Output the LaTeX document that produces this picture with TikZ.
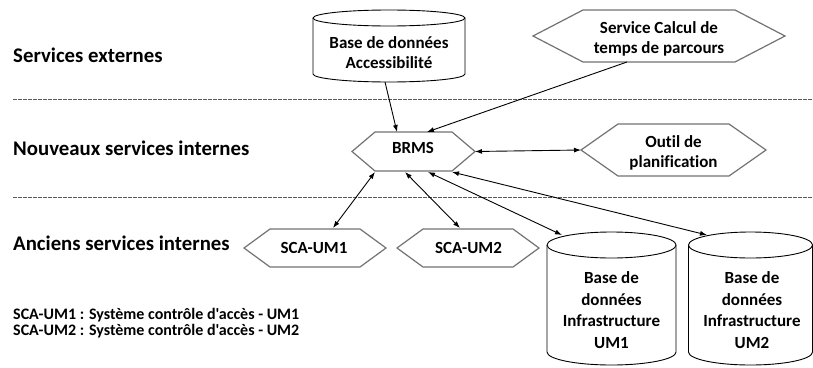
\documentclass[tikz,border=0pt]{standalone}
\usepackage{fontspec}
\setmainfont{Carlito}[Ligatures={TeXOff,CommonOff}]
\usetikzlibrary{arrows.meta,calc}
\newcommand{\hexoutline}[2]{%
  \draw[hexline] (#1.west) -- ([xshift=#2]#1.north west) -- ([xshift=-#2]#1.north east)
    -- (#1.east) -- ([xshift=-#2]#1.south east) -- ([xshift=#2]#1.south west) -- cycle;}
\newcommand{\cyloutline}[3]{%
  \draw[cylline] ([yshift=-#3]#1.north west) -- ([yshift=#3]#1.south west)
    arc[start angle=180,end angle=360,x radius=#2,y radius=#3]
    -- ([yshift=-#3]#1.north east)
    arc[start angle=0,end angle=180,x radius=#2,y radius=#3] -- cycle;
  \draw[cylline] ([yshift=-#3]#1.north west)
    arc[start angle=180,end angle=360,x radius=#2,y radius=#3];}
\begin{document}
\begin{tikzpicture}[x=1pt,y=-1pt,
  box/.style={draw=none,inner sep=0pt,outer sep=0pt,minimum width=#1},
  hexline/.style={draw=black!55,line width=1.2pt,fill=white,line join=miter},
  cylline/.style={draw=black,line width=0.9pt,fill=white},
  txt/.style={font=\fontsize{17}{20}\selectfont\bfseries,align=center,inner sep=0pt,text=black},
  dbtxt/.style={font=\fontsize{17}{21.5}\selectfont\bfseries,align=center,inner sep=0pt,text=black},
  lane/.style={font=\fontsize{20.8}{24}\selectfont\bfseries,anchor=base west,inner sep=0pt,text=black},
  legend/.style={font=\fontsize{16}{15}\selectfont\bfseries,anchor=base west,inner sep=0pt,text=black},
  sep/.style={draw=black!65,line width=0.9pt,dash pattern=on 3.5pt off 1.5pt},
  conn/.style={draw=black,line width=0.9pt},
  tip/.style={-{Latex[length=7pt,width=5pt]}},
  tips/.style={{Latex[length=7pt,width=5pt]}-{Latex[length=7pt,width=5pt]}}
]
\useasboundingbox (0,0) rectangle (813,367);

% separators
\coordinate (s1a) at (13,99);  \coordinate (s1b) at (813,99);
\coordinate (s2a) at (13,197); \coordinate (s2b) at (813,197);
\draw[sep] (s1a) -- (s1b);
\draw[sep] (s2a) -- (s2b);

% lane labels
\node[lane] (l1) at (13,62) {Services externes};
\node[lane] (l2) at (13,155) {Nouveaux services internes};
\node[lane] (l3) at (13,250) {Anciens services internes};

% legend
\node[legend] (g1) at (13,319) {SCA-UM1 : Système contrôle d'accès - UM1};
\node[legend] (g2) at (13,335) {SCA-UM2 : Système contrôle d'accès - UM2};

% shape boxes
\node[box=152pt,minimum height=72pt] (acc) at (389,46) {};
\node[box=252pt,minimum height=52pt] (svc) at (659,36) {};
\node[box=123pt,minimum height=39pt] (brms) at (413.5,151.5) {};
\node[box=185pt,minimum height=52pt] (outil) at (673.5,150) {};
\node[box=142pt,minimum height=38pt] (sca1) at (315,248) {};
\node[box=142pt,minimum height=38pt] (sca2) at (468,248) {};
\node[box=129pt,minimum height=133pt] (db1) at (611.5,298.5) {};
\node[box=124pt,minimum height=133pt] (db2) at (750.5,298.5) {};

% outlines
\cyloutline{acc}{76pt}{8pt}
\hexoutline{svc}{50pt}
\hexoutline{brms}{23pt}
\hexoutline{outil}{37pt}
\hexoutline{sca1}{26pt}
\hexoutline{sca2}{26pt}
\cyloutline{db1}{64.5pt}{13pt}
\cyloutline{db2}{62pt}{13pt}

% texts
\node[txt] (acct) at (389,53) {Base de données\\Accessibilité};
\node[txt] (svct) at (659,38.5) {Service Calcul de\\temps de parcours};
\node[txt] (brmst) at (413,148) {BRMS};
\node[txt] (outilt) at (673.5,153) {Outil de\\planification};
\node[txt] (sca1t) at (314,248) {SCA-UM1};
\node[txt] (sca2t) at (468.5,248) {SCA-UM2};
\node[dbtxt] (db1t) at (611.5,310) {Base de\\données\\Infrastructure\\UM1};
\node[dbtxt] (db2t) at (752,310) {Base de\\données\\Infrastructure\\UM2};

% connectors
\draw[conn,tip] ([xshift=-4pt]acc.south) -- ([xshift=-16.5pt]brms.north);
\draw[conn,tip] ([xshift=-32pt]svc.south) -- ([xshift=13.5pt]brms.north);
\draw[conn,tips] (brms.east) -- (outil.west);
\draw[conn,tips] ([xshift=-38.5pt,yshift=-1pt]brms.south) -- ([xshift=18pt,yshift=1pt]sca1.north);
\draw[conn,tips] ([xshift=-8.5pt,yshift=-1pt]brms.south) -- ([xshift=-8pt,yshift=1pt]sca2.north);
\draw[conn,tips] ([xshift=14.5pt,yshift=-1pt]brms.south) -- ([xshift=-49.5pt,yshift=-3pt]db1.north);
\draw[conn,tips] ([xshift=38.5pt,yshift=-1pt]brms.south) -- ([xshift=-43.5pt,yshift=-3pt]db2.north);
\end{tikzpicture}
\end{document}
